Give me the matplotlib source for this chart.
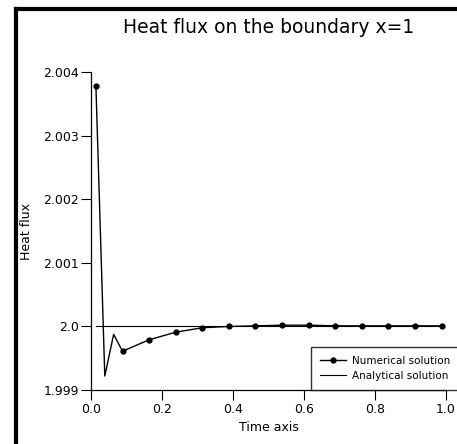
import numpy as np
import matplotlib.pyplot as plt
from matplotlib.lines import Line2D

# Numerical heat flux at x=1
t_num = [0.0125, 0.0375, 0.0625, 0.0875, 0.1625, 0.2375, 0.3125, 0.3875,
         0.4625, 0.5375, 0.6125, 0.6875, 0.7625, 0.8375, 0.9125, 0.9875]
q_num = [2.00378, 1.99922, 1.999876, 1.99961, 1.99979, 1.99991, 1.99998,
         2.00000, 2.00001, 2.00002, 2.00002, 2.00001, 2.00001, 2.00001,
         2.00001, 2.00001]
# Analytical solution is constant
t_exact = [0.0125, 0.9875]
q_exact = [2.0, 2.0]

yticks = [1.999, 2.0, 2.001, 2.002, 2.003, 2.004]
ytick_labels = ["1.999", "2.0", "2.001", "2.002", "2.003", "2.004"]
xticks = [0.0, 0.2, 0.4, 0.6, 0.8, 1.0]

fig = plt.figure(figsize=(4.57, 4.44), dpi=100)
ax = fig.add_axes([0.2002, 0.1216, 0.7758, 0.7156])

# markers only on every numerical step that was plotted
marks = [0] + list(range(3, len(t_num)))
ax.plot(t_num, q_num, color="black", lw=1.0, marker="o", ms=3.5,
        markevery=marks, label="Numerical solution")
ax.plot(t_exact, q_exact, color="black", lw=0.8, label="Analytical solution")

ax.set_xlim(0, 1.0)
ax.set_ylim(1.999, 2.004)
ax.set_xticks(xticks)
ax.set_xticklabels([f"{v:.1f}" for v in xticks])
ax.set_yticks(yticks)
ax.set_yticklabels(ytick_labels)
ax.tick_params(direction="out", length=7, width=0.8, labelsize=9, pad=2)
for s in ["top", "right"]:
    ax.spines[s].set_visible(False)
for s in ["left", "bottom"]:
    ax.spines[s].set_linewidth(0.9)

ax.set_title("Heat flux on the boundary x=1", fontsize=13.5, pad=28)
ax.set_xlabel("Time axis", fontsize=9, labelpad=4)
ax.set_ylabel("Heat flux", fontsize=9)
ax.yaxis.set_label_coords(-0.165, 0.5)

leg = ax.legend(loc="lower left", bbox_to_anchor=(0.619, 0.0), fontsize=7.5,
                frameon=True, fancybox=False, edgecolor="black",
                handlelength=2.5, handletextpad=0.5, borderpad=0.9,
                labelspacing=0.45, borderaxespad=0)
leg.get_frame().set_linewidth(1)

# thick outer border, clipped by image edge
fig.add_artist(Line2D([16 / 457, 16 / 457], [0, 1 - 9.5 / 444],
                      color="black", lw=3, transform=fig.transFigure))
fig.add_artist(Line2D([16 / 457, 1], [1 - 9.5 / 444, 1 - 9.5 / 444],
                      color="black", lw=3, transform=fig.transFigure))

fig.savefig("out.png", dpi=100)
